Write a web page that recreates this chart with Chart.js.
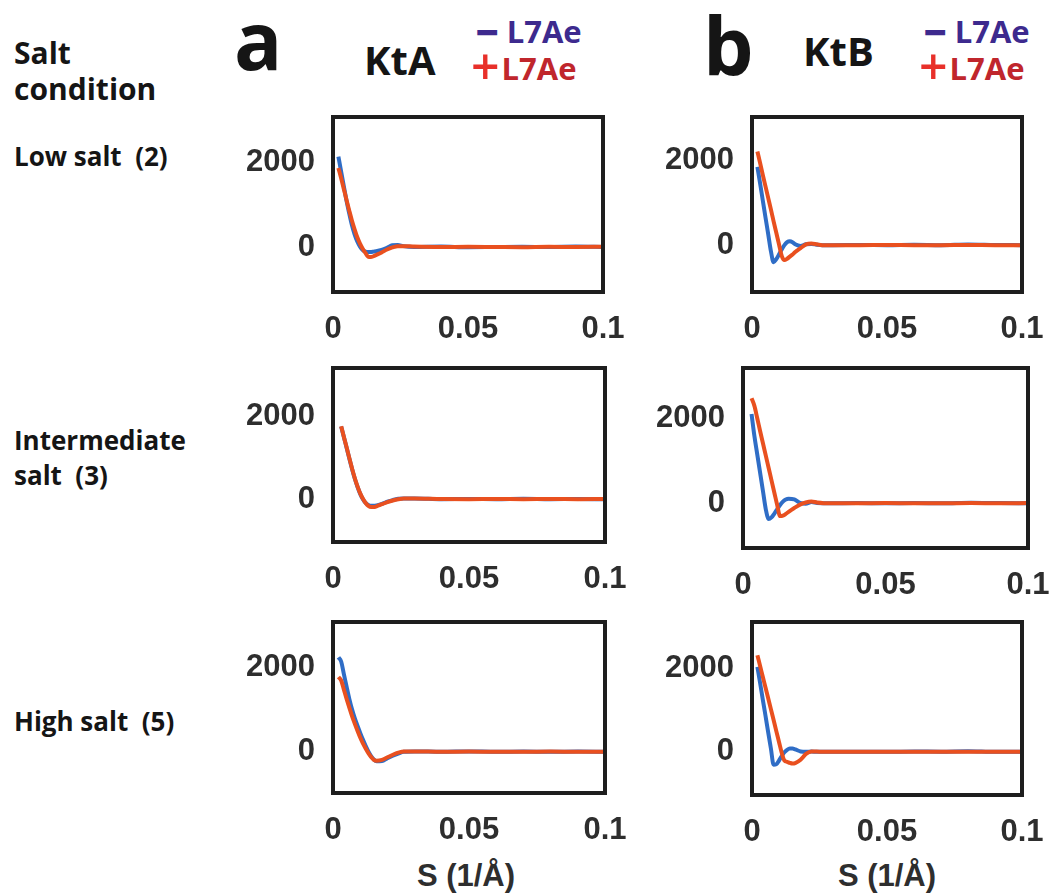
<!DOCTYPE html>
<html>
<head>
<meta charset="utf-8">
<script src="https://cdn.jsdelivr.net/npm/chart.js@4.4.0/dist/chart.umd.min.js"></script>
<style>
body { margin: 0; background: #fff; }
#page { position: relative; width: 1049px; height: 893px; overflow: hidden; background: #fff; }
.t { position: absolute; font-family: "Open Sans", sans-serif; font-weight: 700; line-height: 1; white-space: nowrap; color: #151515; }
.ax { position: absolute; font-family: "Liberation Sans", Arial, sans-serif; font-weight: 700; font-size: 31px; line-height: 1; color: #2e2e2e; white-space: nowrap; transform: translateX(-50%); }
.mi { color: #3d2a8e; font-size: 40px; font-weight: 800; position: relative; top: 4px; margin-right: 8px; }
.pl { color: #e8302a; font-size: 50px; font-weight: 600; position: relative; top: 5px; margin-right: 2px; }
canvas.p { position: absolute; }
</style>
</head>
<body>
<div id="page">
  <div class="t" style="left:14px;top:38px;font-size:30px">Salt</div>
  <div class="t" style="left:14px;top:74px;font-size:30px">condition</div>

  <div class="t" style="left:234px;top:-1px;font-size:80px">a</div>
  <div class="t" style="left:364px;top:40px;font-size:40px">KtA</div>
  <div class="t" style="left:476px;top:8px;font-size:31px;color:#3d2a8e"><span class="mi">&minus;</span>L7Ae</div>
  <div class="t" style="left:471px;top:36px;font-size:31px;color:#c0262c"><span class="pl">+</span>L7Ae</div>

  <div class="t" style="left:703px;top:4px;font-size:80px">b</div>
  <div class="t" style="left:803px;top:31px;font-size:40px">KtB</div>
  <div class="t" style="left:924px;top:8px;font-size:31px;color:#3d2a8e"><span class="mi">&minus;</span>L7Ae</div>
  <div class="t" style="left:919px;top:36px;font-size:31px;color:#c0262c"><span class="pl">+</span>L7Ae</div>

  <div class="t" style="left:14px;top:143px;font-size:26px">Low salt&nbsp; (2)</div>
  <div class="t" style="left:14px;top:427px;font-size:26px">Intermediate</div>
  <div class="t" style="left:14px;top:462px;font-size:26px">salt&nbsp; (3)</div>
  <div class="t" style="left:14px;top:708px;font-size:26px">High salt&nbsp; (5)</div>

  <div class="ax" style="left:466px;top:860px">S (1/Å)</div>
  <div class="ax" style="left:887px;top:860px">S (1/Å)</div>
</div>
<script>
// scattering vector S (1/A), shared by all curves
var xs = [0.002, 0.003, 0.004, 0.005, 0.006, 0.007, 0.008, 0.009, 0.010, 0.011,
          0.012, 0.013, 0.014, 0.015, 0.016, 0.018, 0.020, 0.022, 0.024, 0.026,
          0.030, 0.040, 0.050, 0.060, 0.070, 0.080, 0.090, 0.100];

// KtA
var ktaLowMinus = [2150, 1800, 1450, 1100, 800, 520, 300, 130, 10, -70, -110, -120, -120, -110, -100, -70, -20, 40, 50, 20, 0, 10, -5, 0, 5, 0, 10, 0];
var ktaLowPlus  = [1880, 1640, 1380, 1120, 870, 630, 420, 230, 80, -40, -140, -230, -240, -220, -190, -130, -60, -10, 20, 20, 10, 0, 5, 0, -5, 5, 0, 5];
var ktaMidMinus = [null, 1750, 1500, 1240, 980, 730, 500, 300, 130, 0, -90, -140, -160, -160, -150, -110, -60, -20, 10, 20, 20, 0, 5, 0, 10, 0, 5, 0];
var ktaMidPlus  = [null, 1760, 1500, 1250, 990, 740, 510, 310, 140, 10, -90, -160, -190, -190, -170, -120, -70, -30, 0, 20, 20, 5, 0, 5, 0, 5, 0, 5];
var ktaHighMinus = [2250, 2150, 1850, 1550, 1260, 1010, 800, 620, 450, 290, 140, 10, -100, -180, -225, -220, -150, -90, -40, 0, 10, 0, 10, 0, 5, 0, 5, 0];
var ktaHighPlus  = [1780, 1700, 1480, 1260, 1050, 850, 670, 500, 340, 200, 80, -30, -120, -190, -210, -190, -130, -70, -20, 10, 10, 0, 5, 0, 0, 5, 0, 0];

// KtB
var ktbLowMinus = [1840, 1450, 1050, 650, 260, -140, -400, -330, -220, -100, 0, 70, 90, 70, 20, -20, 20, 30, 10, 0, 0, 5, 0, 10, 0, 15, 5, 0];
var ktbLowPlus  = [2200, 1930, 1650, 1380, 1110, 840, 560, 290, 20, -250, -350, -320, -270, -220, -160, -70, 20, 40, 20, 0, 0, 0, 5, 0, 0, 5, 0, 0];
var ktbMidMinus = [null, 2100, 1580, 1150, 720, 290, -140, -370, -330, -240, -140, -40, 40, 90, 110, 90, 10, -10, 30, 10, 0, 5, 0, 5, 0, 15, 5, 0];
var ktbMidPlus  = [null, 2470, 2290, 2000, 1700, 1410, 1120, 830, 540, 250, -40, -300, -290, -250, -200, -110, -30, 20, 40, 20, 0, 0, 5, 0, 0, 5, 0, 5];
var ktbHighMinus = [2050, 1660, 1260, 870, 470, 80, -310, -300, -210, -100, -10, 50, 80, 80, 60, 10, 0, 10, 0, 0, 0, 5, 0, 10, 5, 15, 0, 5];
var ktbHighPlus  = [2330, 2070, 1810, 1550, 1290, 1030, 770, 500, 240, -20, -210, -240, -265, -280, -270, -190, -50, 10, 10, 0, 0, 0, 5, 0, 0, 5, 0, 0];

var xTicks = [0, 0.05, 0.1];
var xTickLabels = ['0', '0.05', '0.1'];
var yTicks = [0, 2000];
var yTickLabels = ['0', '2000'];

var BLUE = '#2f6dc6';
var RED = '#e9501f';

// box = left, top, right, bottom of the plot frame on the page
var panels = [
    { box: [333, 117, 603, 292], yMin: -1070, yMax: 3090, minus: ktaLowMinus,  plus: ktaLowPlus },
    { box: [752, 117, 1022, 292], yMin: -1100, yMax: 3010, minus: ktbLowMinus,  plus: ktbLowPlus },
    { box: [333, 368, 605, 542], yMin: -1030, yMax: 3160, minus: ktaMidMinus,  plus: ktaMidPlus },
    { box: [743, 368, 1028, 548], yMin: -1050, yMax: 3180, minus: ktbMidMinus,  plus: ktbMidPlus },
    { box: [333, 622, 605, 793], yMin: -980,  yMax: 3090, minus: ktaHighMinus, plus: ktaHighPlus },
    { box: [752, 622, 1022, 795], yMin: -1040, yMax: 3130, minus: ktbHighMinus, plus: ktbHighPlus }
];

var tickFont = { family: '"Liberation Sans", Arial, sans-serif', weight: 'bold', size: 31 };

var boxPlugin = {
    id: 'frame',
    afterDraw: function (chart) {
        var a = chart.chartArea, c = chart.ctx;
        c.save();
        c.strokeStyle = '#1e1e1e';
        c.lineWidth = 4;
        c.strokeRect(a.left, a.top, a.right - a.left, a.bottom - a.top);
        c.restore();
    }
};

function points(vals) {
    var ret = [];
    for (var i = 0; i < xs.length; i++) {
        ret.push({ x: xs[i], y: vals[i] });
    }
    return ret;
}

function drawPanel(p) {
    var w = p.box[2] - p.box[0];
    var h = p.box[3] - p.box[1];
    var cv = document.createElement('canvas');
    cv.className = 'p';
    cv.width = w + 130;
    cv.height = h + 66;
    cv.style.width = cv.width + 'px';
    cv.style.height = cv.height + 'px';
    cv.style.left = (p.box[0] - 100) + 'px';
    cv.style.top = (p.box[1] - 10) + 'px';
    document.getElementById('page').appendChild(cv);

    new Chart(cv.getContext('2d'), {
        type: 'line',
        data: {
            datasets: [
                { label: '+L7Ae', data: points(p.plus), borderColor: RED },
                { label: '-L7Ae', data: points(p.minus), borderColor: BLUE }
            ]
        },
        options: {
            responsive: false,
            animation: false,
            events: [],
            layout: { padding: { top: 10, right: 30, left: 0, bottom: 0 } },
            plugins: { legend: { display: false }, tooltip: { enabled: false } },
            elements: {
                point: { radius: 0 },
                line: { borderWidth: 4, cubicInterpolationMode: 'monotone' }
            },
            scales: {
                x: {
                    type: 'linear', min: 0, max: 0.1,
                    grid: { display: false }, border: { display: false },
                    ticks: {
                        padding: 11, font: tickFont, color: '#2e2e2e', maxRotation: 0, autoSkip: false,
                        callback: function (v, i) { return xTickLabels[i]; }
                    },
                    afterBuildTicks: function (s) { s.ticks = xTicks.map(function (v) { return { value: v }; }); },
                    afterFit: function (s) { s.height = 56; s.paddingLeft = 0; s.paddingRight = 0; }
                },
                y: {
                    type: 'linear', min: p.yMin, max: p.yMax,
                    grid: { display: false }, border: { display: false },
                    ticks: {
                        padding: 10, font: tickFont, color: '#2e2e2e', autoSkip: false,
                        callback: function (v, i) { return yTickLabels[i]; }
                    },
                    afterBuildTicks: function (s) { s.ticks = yTicks.map(function (v) { return { value: v }; }); },
                    afterFit: function (s) { s.width = 100; s.paddingTop = 0; s.paddingBottom = 0; }
                }
            }
        },
        plugins: [boxPlugin]
    });
}

for (var k = 0; k < panels.length; k++) {
    drawPanel(panels[k]);
}
</script>
</body>
</html>
